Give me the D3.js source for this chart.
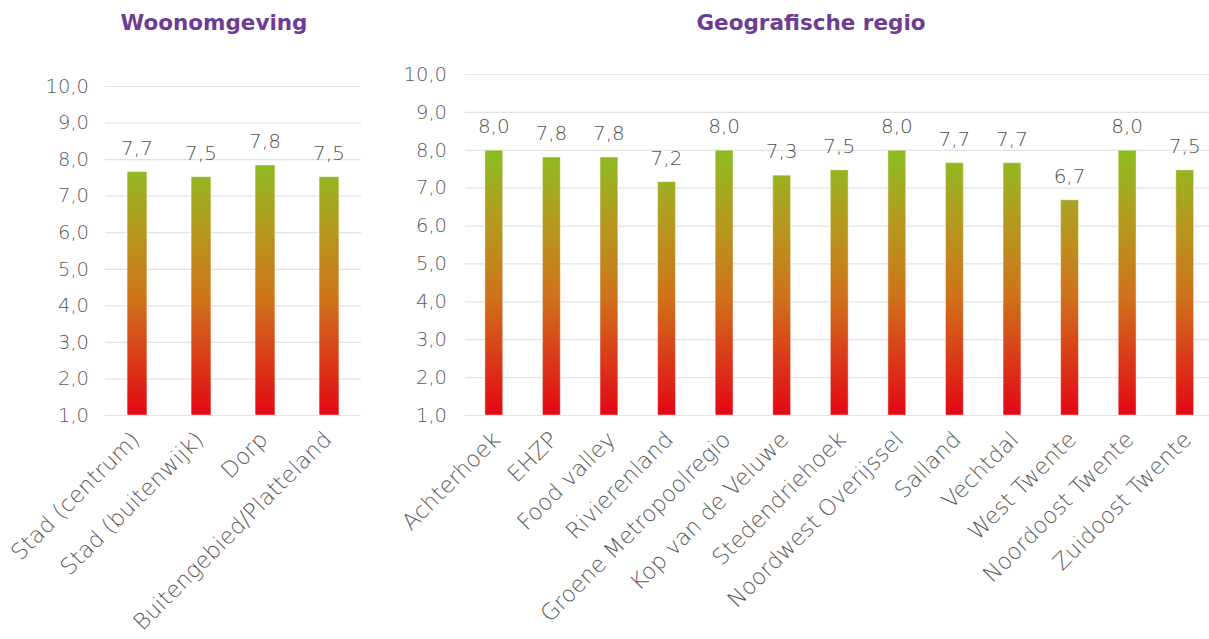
<!DOCTYPE html>
<html>
<head>
<meta charset="utf-8">
<script src="https://cdn.jsdelivr.net/npm/d3@7"></script>
<style>
  body { margin: 0; background: #fff; }
  svg { display: block; font-family: "DejaVu Sans", sans-serif; }
</style>
</head>
<body>
<svg id="chart" width="1209" height="639"></svg>
<script>
// data
const woonCats = ['Stad (centrum)', 'Stad (buitenwijk)', 'Dorp', 'Buitengebied/Platteland'];
const woonVals = [7.66, 7.52, 7.84, 7.52];

const regioCats = ['Achterhoek', 'EHZP', 'Food valley', 'Rivierenland', 'Groene Metropoolregio',
  'Kop van de Veluwe', 'Stedendriehoek', 'Noordwest Overijssel', 'Salland', 'Vechtdal',
  'West Twente', 'Noordoost Twente', 'Zuidoost Twente'];
const regioVals = [7.99, 7.81, 7.81, 7.16, 7.99, 7.33, 7.47, 7.99, 7.66, 7.66, 6.68, 7.99, 7.47];

const yTicks = [1, 2, 3, 4, 5, 6, 7, 8, 9, 10];

const nl = d3.formatLocale({ decimal: ',', thousands: '.', grouping: [3], currency: ['€', ''] });
const fmt = nl.format('.1f');

const svg = d3.select('#chart');

const drawChart = function(id, title, cats, vals, o) {
  const g = svg.append('g');

  const x = d3.scaleBand().domain(cats).range([o.left, o.right]).paddingInner(0.69).paddingOuter(0.345);
  const y = d3.scaleLinear().domain([1, 10]).range([o.bottom, o.top]);

  // gradient along the value axis
  const grad = svg.append('defs').append('linearGradient')
    .attr('id', 'grad-' + id)
    .attr('gradientUnits', 'userSpaceOnUse')
    .attr('x1', 0).attr('x2', 0)
    .attr('y1', y(1)).attr('y2', y(8));
  grad.append('stop').attr('offset', '0%').attr('stop-color', '#e40716');
  grad.append('stop').attr('offset', '45%').attr('stop-color', '#cf731b');
  grad.append('stop').attr('offset', '75%').attr('stop-color', '#b29d1f');
  grad.append('stop').attr('offset', '100%').attr('stop-color', '#8cbd22');

  // grid
  g.append('g')
    .attr('transform', `translate(${o.left},0)`)
    .call(d3.axisLeft(y).tickValues(yTicks).tickSize(-(o.right - o.left)).tickFormat(''))
    .call(a => a.select('.domain').remove())
    .call(a => a.selectAll('line').attr('stroke', '#e3e3e3').attr('stroke-width', 1.2));

  // y labels
  g.append('g')
    .attr('transform', `translate(${o.left},0)`)
    .call(d3.axisLeft(y).tickValues(yTicks).tickSize(0).tickPadding(o.pad).tickFormat(fmt))
    .call(a => a.select('.domain').remove())
    .call(a => a.selectAll('text')
      .attr('fill', '#5a5a5a')
      .style('font-family', '"DejaVu Sans", sans-serif')
      .style('font-size', '19.5px')
      .style('font-weight', 200));

  // bars
  g.selectAll('rect.bar')
    .data(vals)
    .enter()
    .append('rect')
    .attr('class', 'bar')
    .attr('x', (d, i) => x(cats[i]))
    .attr('width', x.bandwidth())
    .attr('y', d => y(d))
    .attr('height', d => y(1) - y(d))
    .attr('fill', `url(#grad-${id})`)
    .attr('stroke', '#ffffff')
    .attr('stroke-opacity', 0.45)
    .attr('stroke-width', 1);

  // value labels
  g.selectAll('text.val')
    .data(vals)
    .enter()
    .append('text')
    .attr('class', 'val')
    .attr('x', (d, i) => x(cats[i]) + x.bandwidth() / 2)
    .attr('y', d => y(d) - 17)
    .attr('text-anchor', 'middle')
    .attr('fill', '#4f4f4f')
    .style('font-size', '20px')
    .style('font-weight', 200)
    .text(d => fmt(d));

  // category labels
  g.selectAll('text.cat')
    .data(cats)
    .enter()
    .append('text')
    .attr('class', 'cat')
    .attr('transform', d => `translate(${x(d) + x.bandwidth() / 2 + o.dx},${o.bottom + 26}) rotate(-45)`)
    .attr('text-anchor', 'end')
    .attr('fill', '#5a5a5a')
    .style('font-size', '22.5px')
    .style('font-weight', 200)
    .text(d => d);

  // title
  g.append('text')
    .attr('x', o.titleX)
    .attr('y', 30)
    .attr('text-anchor', 'middle')
    .attr('fill', '#6e3c92')
    .style('font-size', '21.5px')
    .style('font-weight', 700)
    .text(title);
}

drawChart('woon', 'Woonomgeving', woonCats, woonVals,
  { left: 105, right: 361, top: 86, bottom: 415, pad: 16, dx: 4, titleX: 214 });
drawChart('regio', 'Geografische regio', regioCats, regioVals,
  { left: 465, right: 1213.5, top: 74, bottom: 415, pad: 18, dx: 8, titleX: 811 });
</script>
</body>
</html>
